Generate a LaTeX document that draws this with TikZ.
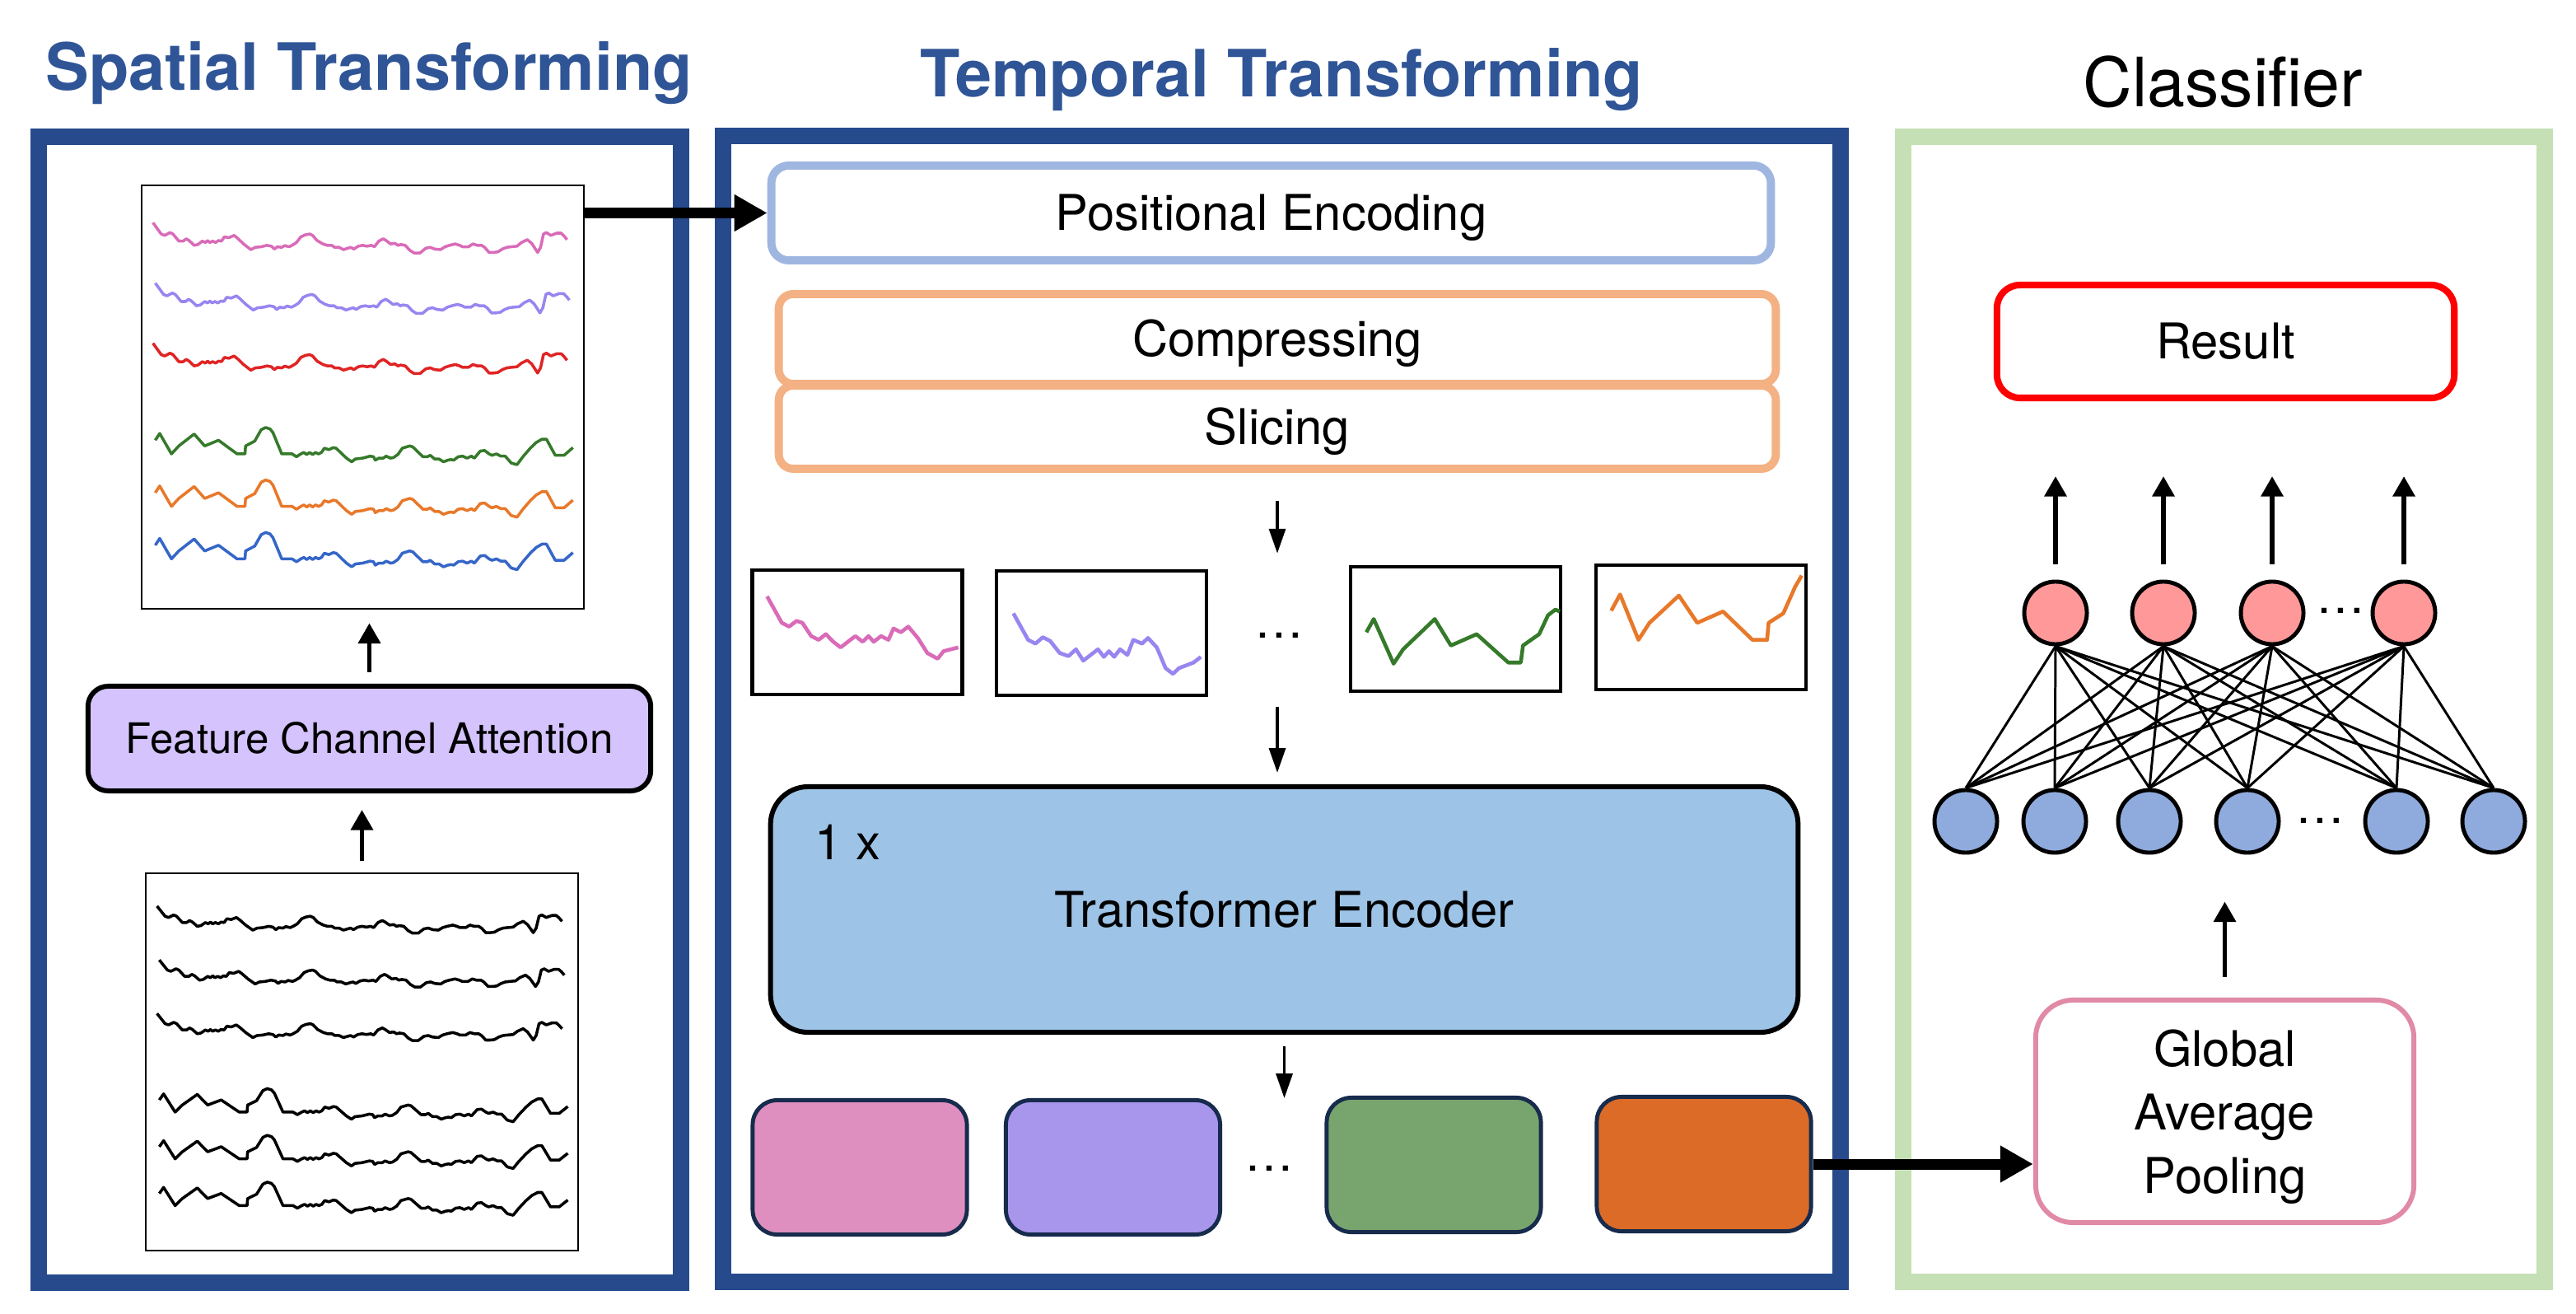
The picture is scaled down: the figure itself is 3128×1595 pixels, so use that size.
\documentclass[tikz,border=0pt]{standalone}
\usepackage{fontspec}
\setmainfont{TeX Gyre Heros}
\usetikzlibrary{arrows.meta,calc,positioning}

\definecolor{frameblue}{HTML}{264A8C}
\definecolor{titleblue}{HTML}{2F5597}
\definecolor{framegreen}{HTML}{C5E0B4}
\definecolor{peblue}{HTML}{9FB6E1}
\definecolor{sliceorange}{HTML}{F4B183}
\definecolor{tefill}{HTML}{9DC3E6}
\definecolor{fcafill}{HTML}{D4C3FC}
\definecolor{tokenline}{HTML}{172B4D}
\definecolor{tokpink}{HTML}{DE8FBF}
\definecolor{tokpurple}{HTML}{A896EC}
\definecolor{tokgreen}{HTML}{78A46E}
\definecolor{tokorange}{HTML}{DC6B27}
\definecolor{gappink}{HTML}{E08AA6}
\definecolor{resultred}{HTML}{FF0000}
\definecolor{redfill}{HTML}{FF9999}
\definecolor{bluefill}{HTML}{8FAADC}
\definecolor{wpink}{HTML}{D96BB8}
\definecolor{wpurple}{HTML}{9985F0}
\definecolor{wred}{HTML}{E02424}
\definecolor{wgreen}{HTML}{357A2A}
\definecolor{worange}{HTML}{E8782A}
\definecolor{wblue}{HTML}{3566C8}

% trace shapes, in the units of the wave panel
\newcommand{\wavecalm}{(72,175) -- (100,215) -- (112,220) -- (130,210) -- (140,215) -- (160,240) -- (175,240) -- (185,232) -- (195,238) -- (212,255) -- (225,252) -- (240,240) -- (250,245) -- (258,238) -- (265,245) -- (275,240) -- (285,245) -- (295,238) -- (305,240) -- (315,225) -- (330,228) -- (348,220) -- (360,230) -- (380,250) -- (405,270) -- (420,262) -- (440,260) -- (460,255) -- (475,258) -- (485,268) -- (495,260) -- (510,262) -- (520,256) -- (535,260) -- (545,255) -- (560,245) -- (575,225) -- (590,218) -- (605,215) -- (615,220) -- (630,238) -- (650,250) -- (665,255) -- (680,255) -- (690,262) -- (705,262) -- (720,270) -- (735,265) -- (745,262) -- (755,268) -- (770,258) -- (785,255) -- (800,258) -- (815,255) -- (825,260) -- (840,240) -- (855,232) -- (865,238) -- (880,250) -- (895,248) -- (905,255) -- (915,252) -- (930,255) -- (945,272) -- (960,282) -- (980,282) -- (1000,265) -- (1015,262) -- (1030,268) -- (1050,270) -- (1065,260) -- (1080,255) -- (1100,250) -- (1115,255) -- (1125,260) -- (1145,260) -- (1160,250) -- (1175,255) -- (1190,255) -- (1200,262) -- (1215,280) -- (1230,280) -- (1245,278) -- (1260,268) -- (1275,262) -- (1290,260) -- (1310,258) -- (1325,245) -- (1345,235) -- (1360,248) -- (1380,280) -- (1390,262) -- (1400,215) -- (1410,210) -- (1425,220) -- (1445,212) -- (1460,212) -- (1470,222) -- (1480,235)}
\newcommand{\wavejagged}{(80,942) -- (95,918) -- (135,990) -- (160,962) -- (212,920) -- (248,962) -- (295,942) -- (358,990) -- (385,990) -- (387,962) -- (418,945) -- (440,905) -- (455,897) -- (470,902) -- (480,915) -- (510,990) -- (545,990) -- (560,1000) -- (575,990) -- (585,985) -- (595,992) -- (605,985) -- (615,992) -- (625,985) -- (635,990) -- (645,985) -- (655,970) -- (670,975) -- (685,968) -- (695,970) -- (710,985) -- (730,1005) -- (748,1018) -- (760,1008) -- (785,1005) -- (810,998) -- (822,1000) -- (828,1012) -- (840,1005) -- (855,1005) -- (865,998) -- (880,1005) -- (890,1003) -- (905,992) -- (920,970) -- (945,962) -- (955,965) -- (975,985) -- (990,1000) -- (1005,1000) -- (1015,995) -- (1030,1008) -- (1045,1008) -- (1060,1018) -- (1075,1012) -- (1085,1010) -- (1095,1012) -- (1110,1000) -- (1125,998) -- (1140,1005) -- (1155,998) -- (1165,1005) -- (1185,980) -- (1200,978) -- (1215,990) -- (1225,995) -- (1240,990) -- (1255,998) -- (1270,998) -- (1290,1022) -- (1310,1028) -- (1330,1000) -- (1355,970) -- (1375,950) -- (1395,938) -- (1410,938) -- (1440,995) -- (1470,995) -- (1500,968)}
\newcommand{\fsdots}{\fontsize{17}{20}\selectfont}

\begin{document}
\begin{tikzpicture}[x=0.01cm, y=-0.01cm,
  every node/.style={inner sep=0pt},
  title/.style={anchor=base, font=\fontsize{22.5}{27}\selectfont\bfseries, text=titleblue},
  panel/.style={draw=#1, line width=5.7pt},
  boxtext/.style={font=\fontsize{17}{21.9}\selectfont},
  capmid/.style={text height=12.2pt, text depth=0pt},
  waveframe/.style={draw=black, line width=0.7pt},
  sliceframe/.style={draw=black, line width=1.3pt, minimum width=2.55cm, minimum height=1.51cm},
  token/.style={draw=tokenline, line width=1.4pt, rounded corners=8.5pt, minimum width=2.6cm, minimum height=1.63cm, fill=#1},
  upline/.style={-{Triangle[length=7pt,width=7.5pt]}, line width=1.6pt},
  downline/.style={-{Triangle[length=8.5pt,width=5.7pt]}, line width=0.9pt},
  fatarrow/.style={-{Triangle[length=11.4pt,width=12pt]}, line width=3.7pt},
  wave/.style={draw=#1, line width=1pt, line join=round},
  slicewave/.style={draw=#1, line width=1.3pt, line join=round},
  neuron/.style={circle, draw=black, line width=1.4pt, minimum size=0.76cm, fill=#1},
]
\useasboundingbox (0,0) rectangle (3128,1595);

% panels and titles
\node[panel=frameblue, minimum width=7.8cm, minimum height=13.91cm] (spatial) at (437,861.5) {};
\node[panel=frameblue, minimum width=13.57cm, minimum height=13.91cm] (temporal) at (1556.5,860.5) {};
\node[panel=framegreen, minimum width=7.79cm, minimum height=13.9cm] (classifier) at (2700.5,861) {};
\node[title] (tSpatial) at (448,110) {Spatial Transforming};
\node[title] (tTemporal) at (1556,118) {Temporal Transforming};
\node[title, font=\fontsize{23.5}{28}\selectfont, text=black] (tClassifier) at (2699.5,130) {Classifier};

% spatial transforming
\node[waveframe, minimum width=5.37cm, minimum height=5.14cm] (eegout) at (440.5,482) {};
\node[draw, line width=1.7pt, fill=fcafill, rounded corners=7pt, minimum width=6.83cm, minimum height=1.27cm, font=\fontsize{14.5}{17}\selectfont, text height=10.4pt, text depth=0pt] (fca) at (448.5,896.5) {Feature Channel Attention};
\node[waveframe, minimum width=5.25cm, minimum height=4.58cm] (eegin) at (439.5,1289) {};

\begin{scope}[shift={(160,210)}, xscale=0.3571, yscale=0.3444]
  \draw[wave=wpink] \wavecalm;
  \draw[wave=wpurple, shift={(8,213)}] \wavecalm;
  \draw[wave=wred, shift={(0,425)}] \wavecalm;
  \draw[wave=wgreen] \wavejagged;
  \draw[wave=worange, shift={(0,185)}] \wavejagged;
  \draw[wave=wblue, shift={(0,370)}] \wavejagged;
\end{scope}
\begin{scope}[shift={(165.5,1046.2)}, xscale=0.3493, yscale=0.3068]
  \draw[wave=black] \wavecalm;
  \draw[wave=black, shift={(8,213)}] \wavecalm;
  \draw[wave=black, shift={(0,425)}] \wavecalm;
  \draw[wave=black] \wavejagged;
  \draw[wave=black, shift={(0,185)}] \wavejagged;
  \draw[wave=black, shift={(0,370)}] \wavejagged;
\end{scope}

\draw[upline, shorten <=0.14cm, shorten >=0.2cm] (eegin.north) -- (eegin.north |- fca.south);
\draw[upline, shorten <=0.14cm, shorten >=0.16cm] (fca.north) -- (fca.north |- eegout.south);

% temporal transforming
\node[draw=peblue, line width=2.8pt, rounded corners=6pt, minimum width=12.13cm, minimum height=1.15cm, boxtext, capmid] (pe) at (1543.5,258.5) {Positional Encoding};
\node[draw=sliceorange, line width=2.8pt, rounded corners=5pt, minimum width=12.1cm, minimum height=1.09cm, boxtext, capmid] (compress) at (1551,411.5) {Compressing};
\node[draw=sliceorange, line width=2.8pt, rounded corners=5pt, minimum width=12.1cm, minimum height=1.01cm, boxtext, capmid] (slicing) at (1551,518.5) {Slicing};

\draw[fatarrow] (eegout.east |- pe.west) -- (pe.west);

\node[sliceframe] (s1) at (1041,767.5) {};
\node[sliceframe] (s2) at (1337.5,768.5) {};
\node[sliceframe] (s3) at (1767.5,763.5) {};
\node[sliceframe] (s4) at (2065.5,761.5) {};
\node[font=\fsdots] (dotsA) at (1553,771) {\dots};

\begin{scope}[shift={(860,150)}, xscale=0.8929, yscale=0.4591]
  \draw[slicewave=wpink] (80,1250) -- (100,1320) -- (110,1330) -- (120,1315) -- (128,1320) -- (140,1355) -- (150,1365) -- (160,1350) -- (170,1370) -- (180,1385) -- (190,1370) -- (200,1355) -- (210,1370) -- (218,1355) -- (225,1370) -- (235,1355) -- (245,1365) -- (252,1335) -- (262,1345) -- (272,1330) -- (285,1360) -- (298,1400) -- (312,1415) -- (320,1395) -- (340,1385);
  \draw[slicewave=wpurple] (415,1295) -- (435,1365) -- (445,1375) -- (455,1358) -- (465,1368) -- (478,1400) -- (490,1408) -- (500,1390) -- (510,1420) -- (520,1405) -- (530,1390) -- (538,1410) -- (545,1395) -- (552,1410) -- (560,1390) -- (570,1405) -- (578,1365) -- (590,1375) -- (598,1360) -- (610,1385) -- (622,1440) -- (632,1455) -- (640,1440) -- (660,1425) -- (670,1410);
  \draw[slicewave=wgreen] (895,1345) -- (905,1310) -- (932,1428) -- (945,1390) -- (988,1310) -- (1010,1380) -- (1045,1350) -- (1088,1425) -- (1105,1425) -- (1108,1380) -- (1130,1350) -- (1142,1300) -- (1152,1285) -- (1158,1290);
  \draw[slicewave=worange] (1228,1288) -- (1240,1245) -- (1265,1365) -- (1280,1320) -- (1320,1248) -- (1345,1320) -- (1380,1290) -- (1420,1365) -- (1440,1365) -- (1442,1320) -- (1462,1295) -- (1478,1225) -- (1487,1195);
\end{scope}

\node[draw, line width=1.7pt, fill=tefill, rounded corners=13pt, minimum width=12.47cm, minimum height=2.98cm, boxtext, capmid] (encoder) at (1559.5,1104) {Transformer Encoder};
\node[anchor=base west, boxtext] (repeat) at (989,1043) {1 x};

\node[token=tokpink] (o1) at (1044,1417) {};
\node[token=tokpurple] (o2) at (1351.5,1417) {};
\node[token=tokgreen] (o3) at (1741,1414) {};
\node[token=tokorange] (o4) at (2069,1413) {};
\node[font=\fsdots] (dotsB) at (1541,1418) {\dots};

\draw[downline, shorten <=0.34cm, shorten >=0.18cm] (slicing.south) -- (slicing.south |- s1.north);
\draw[downline, shorten <=0.13cm, shorten >=0.14cm] (slicing.south |- s1.south) -- (slicing.south |- encoder.north);
\draw[downline, shorten <=0.14cm] (encoder.south) -- (encoder.south |- o1.north);

% classifier
\node[draw=resultred, line width=2.3pt, rounded corners=8pt, minimum width=5.55cm, minimum height=1.37cm, boxtext, capmid] (result) at (2702.5,414.5) {Result};
\node[draw=gappink, line width=1.7pt, rounded corners=13pt, minimum width=4.59cm, minimum height=2.7cm, boxtext, align=center, text depth=0pt] (gap) at (2701.5,1349) {Global\\Average\\Pooling};

\draw[fatarrow] (o4.east) -- (o4.east -| gap.west);

\foreach \x [count=\i] in {2496,2627,2759,2919}
  \node[neuron=redfill] (r\i) at (\x,744) {};
\foreach \x [count=\i] in {2387,2495,2610,2729,2910,3028}
  \node[neuron=bluefill] (b\i) at (\x,997) {};
\node[font=\fsdots] (dotsR) at (2842,741) {\dots};
\node[font=\fsdots] (dotsL) at (2817,996) {\dots};

\foreach \i in {1,...,4}
  \foreach \j in {1,...,6}
    \draw[line width=0.85pt] (r\i.south) -- (b\j.north);
\foreach \i in {1,...,4}
  \draw[upline, shorten <=0.19cm, shorten >=0.91cm] (r\i.north) -- (r\i.north |- result.south);
\draw[upline, shorten <=0.25cm, shorten >=0.57cm] (gap.north) -- (gap.north |- b4.south);
\end{tikzpicture}
\end{document}
